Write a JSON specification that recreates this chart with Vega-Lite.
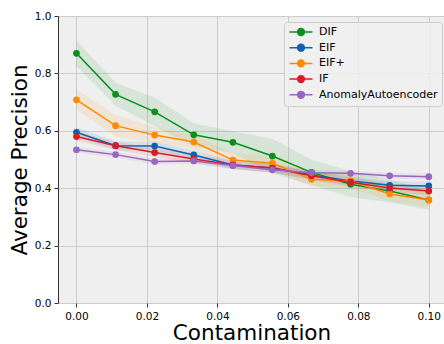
{
  "$schema": "https://vega.github.io/schema/vega-lite/v6.json",
  "width": 387,
  "height": 287,
  "autosize": "none",
  "padding": {"left": 58, "top": 16, "right": 0, "bottom": 41},
  "background": "white",
  "config": {
    "font": "DejaVu Sans",
    "view": {"fill": "#efefef", "stroke": "#333333", "strokeWidth": 1}
  },
  "data": {
    "values": [
      {"method": "DIF", "c": 0.0, "ap": 0.870, "lo": 0.825, "hi": 0.915},
      {"method": "DIF", "c": 0.0111, "ap": 0.727, "lo": 0.687, "hi": 0.767},
      {"method": "DIF", "c": 0.0222, "ap": 0.666, "lo": 0.616, "hi": 0.716},
      {"method": "DIF", "c": 0.0333, "ap": 0.586, "lo": 0.546, "hi": 0.626},
      {"method": "DIF", "c": 0.0444, "ap": 0.560, "lo": 0.522, "hi": 0.598},
      {"method": "DIF", "c": 0.0556, "ap": 0.512, "lo": 0.452, "hi": 0.572},
      {"method": "DIF", "c": 0.0667, "ap": 0.455, "lo": 0.410, "hi": 0.500},
      {"method": "DIF", "c": 0.0778, "ap": 0.414, "lo": 0.369, "hi": 0.459},
      {"method": "DIF", "c": 0.0889, "ap": 0.390, "lo": 0.350, "hi": 0.430},
      {"method": "DIF", "c": 0.1, "ap": 0.359, "lo": 0.325, "hi": 0.393},
      {"method": "EIF", "c": 0.0, "ap": 0.595, "lo": 0.578, "hi": 0.612},
      {"method": "EIF", "c": 0.0111, "ap": 0.548, "lo": 0.533, "hi": 0.563},
      {"method": "EIF", "c": 0.0222, "ap": 0.547, "lo": 0.532, "hi": 0.562},
      {"method": "EIF", "c": 0.0333, "ap": 0.516, "lo": 0.501, "hi": 0.531},
      {"method": "EIF", "c": 0.0444, "ap": 0.481, "lo": 0.466, "hi": 0.496},
      {"method": "EIF", "c": 0.0556, "ap": 0.470, "lo": 0.455, "hi": 0.485},
      {"method": "EIF", "c": 0.0667, "ap": 0.446, "lo": 0.431, "hi": 0.461},
      {"method": "EIF", "c": 0.0778, "ap": 0.425, "lo": 0.410, "hi": 0.440},
      {"method": "EIF", "c": 0.0889, "ap": 0.410, "lo": 0.395, "hi": 0.425},
      {"method": "EIF", "c": 0.1, "ap": 0.408, "lo": 0.393, "hi": 0.423},
      {"method": "EIF+", "c": 0.0, "ap": 0.708, "lo": 0.673, "hi": 0.743},
      {"method": "EIF+", "c": 0.0111, "ap": 0.618, "lo": 0.580, "hi": 0.656},
      {"method": "EIF+", "c": 0.0222, "ap": 0.585, "lo": 0.558, "hi": 0.612},
      {"method": "EIF+", "c": 0.0333, "ap": 0.561, "lo": 0.536, "hi": 0.586},
      {"method": "EIF+", "c": 0.0444, "ap": 0.498, "lo": 0.473, "hi": 0.523},
      {"method": "EIF+", "c": 0.0556, "ap": 0.487, "lo": 0.462, "hi": 0.512},
      {"method": "EIF+", "c": 0.0667, "ap": 0.431, "lo": 0.406, "hi": 0.456},
      {"method": "EIF+", "c": 0.0778, "ap": 0.425, "lo": 0.400, "hi": 0.450},
      {"method": "EIF+", "c": 0.0889, "ap": 0.380, "lo": 0.355, "hi": 0.405},
      {"method": "EIF+", "c": 0.1, "ap": 0.359, "lo": 0.334, "hi": 0.384},
      {"method": "IF", "c": 0.0, "ap": 0.580, "lo": 0.565, "hi": 0.595},
      {"method": "IF", "c": 0.0111, "ap": 0.548, "lo": 0.533, "hi": 0.563},
      {"method": "IF", "c": 0.0222, "ap": 0.524, "lo": 0.509, "hi": 0.539},
      {"method": "IF", "c": 0.0333, "ap": 0.502, "lo": 0.487, "hi": 0.517},
      {"method": "IF", "c": 0.0444, "ap": 0.481, "lo": 0.466, "hi": 0.496},
      {"method": "IF", "c": 0.0556, "ap": 0.470, "lo": 0.455, "hi": 0.485},
      {"method": "IF", "c": 0.0667, "ap": 0.443, "lo": 0.428, "hi": 0.458},
      {"method": "IF", "c": 0.0778, "ap": 0.421, "lo": 0.406, "hi": 0.436},
      {"method": "IF", "c": 0.0889, "ap": 0.401, "lo": 0.386, "hi": 0.416},
      {"method": "IF", "c": 0.1, "ap": 0.390, "lo": 0.375, "hi": 0.405},
      {"method": "AnomalyAutoencoder", "c": 0.0, "ap": 0.534, "lo": 0.524, "hi": 0.544},
      {"method": "AnomalyAutoencoder", "c": 0.0111, "ap": 0.517, "lo": 0.507, "hi": 0.527},
      {"method": "AnomalyAutoencoder", "c": 0.0222, "ap": 0.493, "lo": 0.483, "hi": 0.503},
      {"method": "AnomalyAutoencoder", "c": 0.0333, "ap": 0.495, "lo": 0.485, "hi": 0.505},
      {"method": "AnomalyAutoencoder", "c": 0.0444, "ap": 0.479, "lo": 0.469, "hi": 0.489},
      {"method": "AnomalyAutoencoder", "c": 0.0556, "ap": 0.464, "lo": 0.454, "hi": 0.474},
      {"method": "AnomalyAutoencoder", "c": 0.0667, "ap": 0.454, "lo": 0.444, "hi": 0.464},
      {"method": "AnomalyAutoencoder", "c": 0.0778, "ap": 0.452, "lo": 0.442, "hi": 0.462},
      {"method": "AnomalyAutoencoder", "c": 0.0889, "ap": 0.443, "lo": 0.433, "hi": 0.453},
      {"method": "AnomalyAutoencoder", "c": 0.1, "ap": 0.440, "lo": 0.430, "hi": 0.450}
    ]
  },
  "encoding": {
    "x": {
      "field": "c", "type": "quantitative",
      "scale": {"domain": [-0.00524, 0.1046], "nice": false, "zero": false},
      "axis": {
        "title": "Contamination", "titleFontSize": 21.5, "titleFontWeight": "normal", "titleColor": "#000",
        "titlePadding": 1,
        "values": [0, 0.02, 0.04, 0.06, 0.08, 0.1], "format": ".2f",
        "labelFontSize": 10.5, "labelColor": "#000", "labelPadding": 4,
        "tickColor": "#333", "tickSize": 4, "domain": false,
        "gridColor": "#cccccc", "gridWidth": 1
      }
    },
    "y": {
      "field": "ap", "type": "quantitative",
      "scale": {"domain": [0, 1], "nice": false},
      "axis": {
        "title": "Average Precision", "titleFontSize": 21.5, "titleFontWeight": "normal", "titleColor": "#000",
        "titlePadding": 3,
        "values": [0, 0.2, 0.4, 0.6, 0.8, 1.0], "format": ".1f",
        "labelFontSize": 10.5, "labelColor": "#000", "labelPadding": 3,
        "tickColor": "#333", "tickSize": 4, "domain": false,
        "gridColor": "#cccccc", "gridWidth": 1
      }
    },
    "color": {
      "field": "method", "type": "nominal",
      "sort": ["DIF", "EIF", "EIF+", "IF", "AnomalyAutoencoder"],
      "scale": {
        "domain": ["DIF", "EIF", "EIF+", "IF", "AnomalyAutoencoder"],
        "range": ["#0a8f1e", "#0a62b0", "#ff8a00", "#d81c24", "#9a66c0"]
      },
      "legend": {
        "title": null,
        "orient": "none", "legendX": 226, "legendY": 6,
        "labelFontSize": 11, "labelColor": "#000",
        "symbolType": "M -2.3 0 L 2.3 0 M 0.68 0 A 0.68 0.68 0 1 1 -0.68 0 A 0.68 0.68 0 1 1 0.68 0 Z",
        "symbolSize": 100, "symbolStrokeWidth": 1.5,
        "symbolOpacity": 1, "symbolOffset": 7,
        "rowPadding": 1.7, "labelOffset": 12,
        "padding": 4, "fillColor": "rgba(240,240,240,0.85)", "strokeColor": "#cccccc", "cornerRadius": 3,
        "encode": {"symbols": {"update": {"stroke": {"scale": "color", "field": "value"}, "fill": {"scale": "color", "field": "value"}}}}
      }
    }
  },
  "layer": [
    {
      "mark": {"type": "area", "opacity": 0.1},
      "encoding": {
        "y": {"field": "lo", "type": "quantitative"},
        "y2": {"field": "hi"}
      }
    },
    {
      "mark": {"type": "line", "strokeWidth": 1.5}
    },
    {
      "mark": {"type": "point", "filled": true, "size": 45, "opacity": 1}
    }
  ]
}
